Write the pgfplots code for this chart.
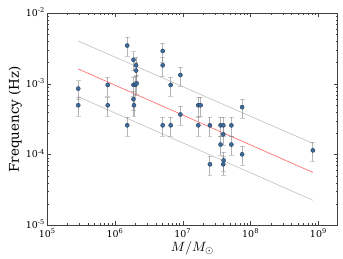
\documentclass[border=0pt]{standalone}
\usepackage{fontspec}
\setmainfont{DejaVu Serif}
\usepackage{graphicx}
\usepackage{pgfplots}
\usepackage{pgfplotstable}
\pgfplotsset{compat=1.18}
\definecolor{pt}{HTML}{3D6C9C}
\definecolor{ptedge}{HTML}{1F3550}
\definecolor{frame}{HTML}{404040}
\pgfplotstableread{
M f e
2.86e5 8.6e-4 2.58e-4
2.86e5 5.0e-4 1.5e-4
7.8e5 9.7e-4 2.91e-4
7.8e5 5.0e-4 1.5e-4
1.51e6 3.5e-3 1.05e-3
1.51e6 2.6e-4 0.78e-4
1.87e6 2.2e-3 0.66e-3
1.87e6 9.7e-4 2.91e-4
1.87e6 6.1e-4 1.83e-4
1.90e6 5.0e-4 1.5e-4
2.04e6 1.84e-3 0.552e-3
2.04e6 1.55e-3 0.465e-3
2.00e6 9.8e-4 2.94e-4
2.08e6 1.02e-3 3.06e-4
5.05e6 2.93e-3 0.879e-3
5.05e6 1.84e-3 0.552e-3
5.05e6 2.6e-4 0.78e-4
6.62e6 9.7e-4 2.91e-4
6.62e6 2.6e-4 0.78e-4
9.2e6 1.34e-3 0.402e-3
9.2e6 3.7e-4 1.11e-4
1.69e7 5.0e-4 1.5e-4
1.83e7 5.0e-4 1.5e-4
1.69e7 2.6e-4 0.78e-4
2.51e7 2.6e-4 0.78e-4
2.51e7 7.3e-5 2.19e-5
3.6e7 2.6e-4 0.78e-4
3.6e7 1.39e-4 0.417e-4
3.95e7 2.6e-4 0.78e-4
3.95e7 1.94e-4 0.582e-4
4.0e7 8.3e-5 2.49e-5
3.95e7 7.3e-5 2.19e-5
5.2e7 2.6e-4 0.78e-4
5.2e7 1.39e-4 0.417e-4
7.5e7 4.7e-4 1.41e-4
7.5e7 1.01e-4 0.303e-4
8.3e8 1.15e-4 0.345e-4
}\pts
\begin{document}
\begin{tikzpicture}
\path[use as bounding box] (-47.3bp,-33.7bp) rectangle (295.7bp,225.3bp);
\begin{axis}[
  at={(0,0)}, anchor=south west,
  scale only axis, width=290.4bp, height=212bp,
  xmode=log, ymode=log,
  xmin=1e5, xmax=1.93e9, ymin=1e-5, ymax=1e-2,
  xtick={1e5,1e6,1e7,1e8,1e9},
  xticklabels={10\textsuperscript{5},10\textsuperscript{6},10\textsuperscript{7},10\textsuperscript{8},10\textsuperscript{9}},
  ytick={1e-5,1e-4,1e-3,1e-2},
  yticklabels={10\textsuperscript{-5},10\textsuperscript{-4},10\textsuperscript{-3},10\textsuperscript{-2}},
  axis line style={frame, line width=0.8pt},
  tick style={frame, line width=0.5pt},
  major tick length=4bp, minor tick length=2bp,
  tick label style={font=\fontsize{9.5}{11}\selectfont},
  yticklabel style={xshift=1bp, yshift=1bp},
  xlabel={\scalebox{1.35}{$M/M_\odot$}},
  ylabel={Frequency (Hz)},
  xlabel style={yshift=3bp},
  ylabel style={font=\fontsize{13.5}{15}\selectfont, yshift=-3bp},
  clip=false,
]
\addplot[gray!45, line width=0.7pt] coordinates {(2.86e5,4.05e-3) (8.3e8,1.44e-4)};
\addplot[red!55, line width=0.7pt] coordinates {(2.86e5,1.63e-3) (8.3e8,5.6e-5)};
\addplot[gray!45, line width=0.7pt] coordinates {(2.86e5,6.6e-4) (8.3e8,2.26e-5)};
\addplot[only marks, mark=*, mark size=2.1bp,
  mark options={fill=pt, draw=ptedge, line width=0.3pt},
  error bars/.cd, y dir=both, y explicit,
  error bar style={gray, opacity=0.6, line width=1.1pt},
  error mark options={rotate=90, mark size=2.4bp, gray, opacity=0.4, line width=0.7pt}]
  table[x=M, y=f, y error=e] {\pts};
\end{axis}
\end{tikzpicture}
\end{document}
